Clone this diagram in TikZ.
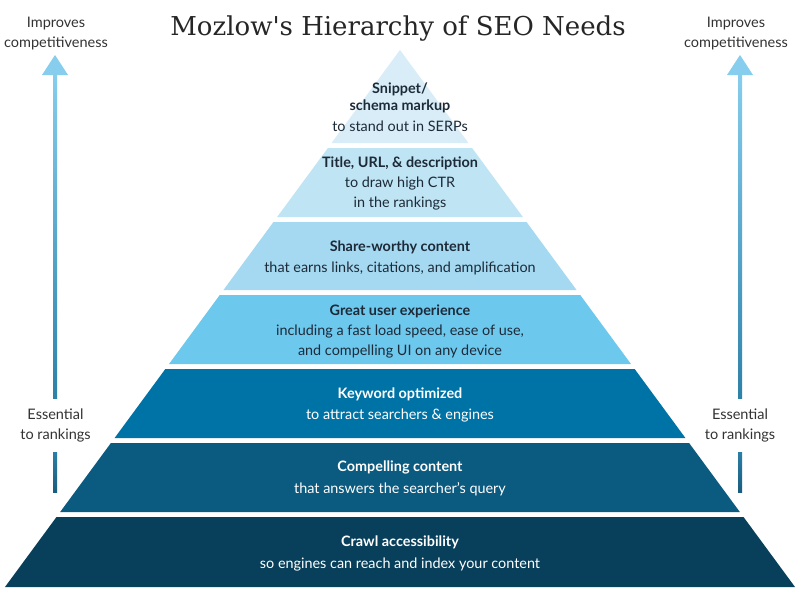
\documentclass[tikz,border=0pt]{standalone}
\usepackage{fontspec}
\setmainfont{Lato}
\newfontfamily\titlefont{DejaVu Serif}
\definecolor{lone}{HTML}{D8EDF7}
\definecolor{ltwo}{HTML}{BFE4F4}
\definecolor{lthree}{HTML}{A4D9F1}
\definecolor{lfour}{HTML}{6DC8EE}
\definecolor{lfive}{HTML}{0073A6}
\definecolor{lsix}{HTML}{0B5A80}
\definecolor{lseven}{HTML}{083F5B}
\definecolor{darktxt}{HTML}{1D2A38}
\definecolor{sidetxt}{HTML}{333333}
\definecolor{arrlight}{HTML}{86CDEE}
\definecolor{arrmid}{HTML}{2D82AA}
\definecolor{arrdark}{HTML}{1A5D7E}
\newcommand{\lyr}[3]{\fill[#3] ({400-0.7356*(#1-50)},#1) -- ({400+0.7356*(#1-50)},#1) -- ({400+0.7356*(#2-50)},#2) -- ({400-0.7356*(#2-50)},#2) -- cycle;}
\begin{document}
\begin{tikzpicture}[x=1pt,y=-1pt,
  laytext/.style={align=center,inner sep=0pt,font=\fontsize{14.4}{20}\selectfont},
  darklay/.style={laytext,text=darktxt},
  lightlay/.style={laytext,text=white},
  sidelabel/.style={align=center,inner sep=0pt,text=sidetxt,font=\fontsize{14.5}{20}\selectfont}]
\useasboundingbox (0,0) rectangle (800,589);
\fill[white] (0,0) rectangle (800,589);
% title
\node[inner sep=0pt,text=black!85,font=\titlefont\fontsize{26}{30}\selectfont] (title) at (398,29) {Mozlow's Hierarchy of SEO Needs};
% pyramid layers
\fill[lone] (400,50) -- ({400+0.7356*93},143) -- ({400-0.7356*93},143) -- cycle;
\lyr{148}{217}{ltwo}
\lyr{222}{290}{lthree}
\lyr{295}{364}{lfour}
\lyr{369}{438}{lfive}
\lyr{443}{512}{lsix}
\lyr{517}{587}{lseven}
% layer texts
\node[darklay] (t1) at (400,107) {\textbf{Snippet/}\\[-3pt]\textbf{schema markup}\\[1pt]to stand out in SERPs};
\node[darklay] (t2) at (400,183) {\textbf{Title, URL, \& description}\\to draw high CTR\\in the rankings};
\node[darklay] (t3) at (400,258) {\textbf{Share-worthy content}\\[1pt]that earns links, citations, and amplification};
\node[darklay] (t4) at (400,331) {\textbf{Great user experience}\\including a fast load speed, ease of use,\\and compelling UI on any device};
\node[lightlay] (t5) at (400,405) {\textbf{Keyword optimized}\\[1pt]to attract searchers \& engines};
\node[lightlay] (t6) at (400,478.5) {\textbf{Compelling content}\\[2pt]that answers the searcher’s query};
\node[lightlay] (t7) at (400,553.5) {\textbf{Crawl accessibility}\\[2pt]so engines can reach and index your content};
% side labels
\node[sidelabel] (limp) at (56,33.5) {Improves\\competitiveness};
\node[sidelabel] (rimp) at (736,33.5) {Improves\\competitiveness};
\node[sidelabel] (less) at (55.5,425.5) {Essential\\to rankings};
\node[sidelabel] (ress) at (740,425.5) {Essential\\to rankings};
% arrows
\foreach \s/\ax in {L/55,R/740}{
  \coordinate (\s tip) at (\ax,55);
  \coordinate (\s base) at (\ax,75);
  \coordinate (\s upend) at (\ax,398);
  \coordinate (\s lowstart) at (\ax,452);
  \coordinate (\s lowend) at (\ax,492);
  \shade[top color=arrlight,bottom color=arrmid] ([xshift=-2pt]\s base) rectangle ([xshift=2pt]\s upend);
  \shade[top color=arrmid!90!arrdark,bottom color=arrdark] ([xshift=-2pt]\s lowstart) rectangle ([xshift=2pt]\s lowend);
  \fill[arrlight] (\s tip) -- ([xshift=13pt]\s base) -- ([xshift=-13pt]\s base) -- cycle;
}
\end{tikzpicture}
\end{document}
